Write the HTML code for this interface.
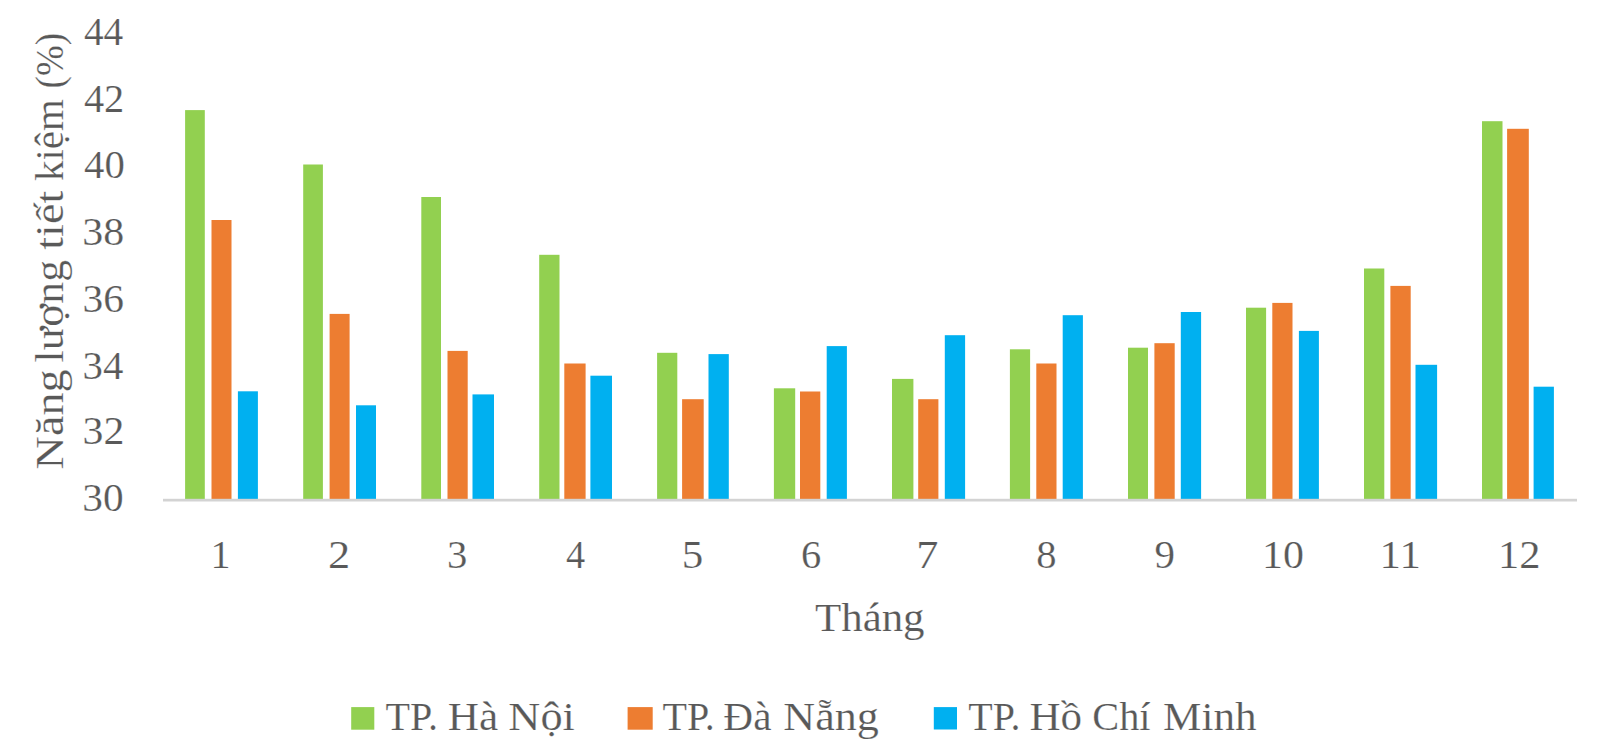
<!DOCTYPE html>
<html lang="vi"><head><meta charset="utf-8"><title>Năng lượng tiết kiệm</title>
<style>
html,body{margin:0;padding:0;background:#fff;}
body{width:1600px;height:750px;overflow:hidden;}
svg{display:block;}
text{font-family:"Liberation Serif",serif;fill:#595959;stroke:#fff;stroke-width:0.2px;}
</style></head><body>
<svg width="1600" height="750" viewBox="0 0 1600 750">
<rect x="0" y="0" width="1600" height="750" fill="#ffffff"/>
<rect x="185.1" y="110.1" width="19.7" height="389.9" fill="#92d050"/>
<rect x="211.5" y="220.0" width="20.0" height="280.0" fill="#ed7d31"/>
<rect x="237.9" y="391.3" width="20.0" height="108.7" fill="#00b0f0"/>
<rect x="303.2" y="164.5" width="19.7" height="335.5" fill="#92d050"/>
<rect x="329.6" y="313.9" width="20.0" height="186.1" fill="#ed7d31"/>
<rect x="356.0" y="405.3" width="20.0" height="94.7" fill="#00b0f0"/>
<rect x="421.3" y="197.0" width="19.7" height="303.0" fill="#92d050"/>
<rect x="447.5" y="350.9" width="20.2" height="149.1" fill="#ed7d31"/>
<rect x="472.5" y="394.4" width="21.5" height="105.6" fill="#00b0f0"/>
<rect x="539.2" y="254.8" width="20.3" height="245.2" fill="#92d050"/>
<rect x="564.3" y="363.5" width="21.3" height="136.5" fill="#ed7d31"/>
<rect x="590.4" y="375.7" width="21.6" height="124.3" fill="#00b0f0"/>
<rect x="657.1" y="352.8" width="20.2" height="147.2" fill="#92d050"/>
<rect x="682.1" y="399.2" width="21.6" height="100.8" fill="#ed7d31"/>
<rect x="708.5" y="354.1" width="20.3" height="145.9" fill="#00b0f0"/>
<rect x="773.9" y="388.3" width="21.3" height="111.7" fill="#92d050"/>
<rect x="800.0" y="391.5" width="20.3" height="108.5" fill="#ed7d31"/>
<rect x="826.7" y="346.1" width="20.2" height="153.9" fill="#00b0f0"/>
<rect x="892.0" y="378.9" width="21.4" height="121.1" fill="#92d050"/>
<rect x="918.2" y="399.2" width="20.2" height="100.8" fill="#ed7d31"/>
<rect x="944.8" y="335.2" width="20.3" height="164.8" fill="#00b0f0"/>
<rect x="1009.9" y="349.3" width="20.2" height="150.7" fill="#92d050"/>
<rect x="1036.3" y="363.5" width="20.2" height="136.5" fill="#ed7d31"/>
<rect x="1062.7" y="315.2" width="20.2" height="184.8" fill="#00b0f0"/>
<rect x="1128.0" y="347.7" width="20.0" height="152.3" fill="#92d050"/>
<rect x="1154.4" y="343.2" width="20.3" height="156.8" fill="#ed7d31"/>
<rect x="1180.8" y="312.0" width="20.3" height="188.0" fill="#00b0f0"/>
<rect x="1246.0" y="307.7" width="20.1" height="192.3" fill="#92d050"/>
<rect x="1272.3" y="302.9" width="20.2" height="197.1" fill="#ed7d31"/>
<rect x="1298.9" y="330.9" width="20.0" height="169.1" fill="#00b0f0"/>
<rect x="1364.0" y="268.5" width="20.3" height="231.5" fill="#92d050"/>
<rect x="1390.4" y="285.9" width="20.3" height="214.1" fill="#ed7d31"/>
<rect x="1415.5" y="364.8" width="21.6" height="135.2" fill="#00b0f0"/>
<rect x="1482.0" y="121.2" width="20.5" height="378.8" fill="#92d050"/>
<rect x="1507.1" y="128.8" width="21.7" height="371.2" fill="#ed7d31"/>
<rect x="1533.6" y="386.7" width="20.3" height="113.3" fill="#00b0f0"/>
<rect x="163.0" y="498.8" width="1414.0" height="2.7" fill="#d3d3d3"/>
<text x="83.95" y="44.70" font-size="39.5" textLength="39.35" lengthAdjust="spacingAndGlyphs">44</text>
<text x="83.93" y="112.00" font-size="39.5" textLength="40.37" lengthAdjust="spacingAndGlyphs">42</text>
<text x="84.03" y="178.30" font-size="39.5" textLength="40.72" lengthAdjust="spacingAndGlyphs">40</text>
<text x="82.28" y="245.30" font-size="39.5" textLength="41.91" lengthAdjust="spacingAndGlyphs">38</text>
<text x="82.50" y="312.00" font-size="39.5" textLength="41.41" lengthAdjust="spacingAndGlyphs">36</text>
<text x="82.54" y="379.30" font-size="39.5" textLength="40.78" lengthAdjust="spacingAndGlyphs">34</text>
<text x="82.58" y="444.30" font-size="39.5" textLength="41.80" lengthAdjust="spacingAndGlyphs">32</text>
<text x="82.31" y="510.80" font-size="39.5" textLength="41.26" lengthAdjust="spacingAndGlyphs">30</text>
<text x="210.60" y="568.40" font-size="39.5" textLength="20.03" lengthAdjust="spacingAndGlyphs">1</text>
<text x="327.93" y="568.40" font-size="39.5" textLength="22.20" lengthAdjust="spacingAndGlyphs">2</text>
<text x="447.09" y="568.40" font-size="39.5" textLength="20.30" lengthAdjust="spacingAndGlyphs">3</text>
<text x="565.92" y="568.40" font-size="39.5" textLength="19.16" lengthAdjust="spacingAndGlyphs">4</text>
<text x="681.70" y="568.40" font-size="39.5" textLength="21.54" lengthAdjust="spacingAndGlyphs">5</text>
<text x="801.10" y="568.40" font-size="39.5" textLength="20.28" lengthAdjust="spacingAndGlyphs">6</text>
<text x="916.35" y="568.40" font-size="39.5" textLength="22.16" lengthAdjust="spacingAndGlyphs">7</text>
<text x="1036.36" y="568.40" font-size="39.5" textLength="20.28" lengthAdjust="spacingAndGlyphs">8</text>
<text x="1154.40" y="568.40" font-size="39.5" textLength="20.52" lengthAdjust="spacingAndGlyphs">9</text>
<text x="1261.99" y="568.40" font-size="39.5" textLength="41.90" lengthAdjust="spacingAndGlyphs">10</text>
<text x="1379.60" y="568.40" font-size="39.5" textLength="41.29" lengthAdjust="spacingAndGlyphs">11</text>
<text x="1497.94" y="568.40" font-size="39.5" textLength="42.48" lengthAdjust="spacingAndGlyphs">12</text>
<text x="815.00" y="630.80" font-size="40" textLength="109.54" lengthAdjust="spacingAndGlyphs">Tháng</text>
<text y="729.7" font-size="39"><tspan x="385.63" textLength="52.35" lengthAdjust="spacingAndGlyphs">TP.</tspan> <tspan x="447.76" textLength="50.47" lengthAdjust="spacingAndGlyphs">Hà</tspan> <tspan x="508.38" textLength="66.47" lengthAdjust="spacingAndGlyphs">Nội</tspan></text>
<text y="729.7" font-size="39"><tspan x="662.53" textLength="52.35" lengthAdjust="spacingAndGlyphs">TP.</tspan> <tspan x="723.34" textLength="48.17" lengthAdjust="spacingAndGlyphs">Đà</tspan> <tspan x="783.39" textLength="95.54" lengthAdjust="spacingAndGlyphs">Nẵng</tspan></text>
<text y="729.7" font-size="39"><tspan x="968.23" textLength="52.24" lengthAdjust="spacingAndGlyphs">TP.</tspan> <tspan x="1029.52" textLength="52.65" lengthAdjust="spacingAndGlyphs">Hồ</tspan> <tspan x="1092.25" textLength="58.32" lengthAdjust="spacingAndGlyphs">Chí</tspan> <tspan x="1163.02" textLength="93.55" lengthAdjust="spacingAndGlyphs">Minh</tspan></text>
<text transform="translate(63.0,468.4) rotate(-90)" y="0" font-size="40"><tspan x="-1.04" textLength="100.07" lengthAdjust="spacingAndGlyphs">Năng</tspan> <tspan x="105.98" textLength="102.38" lengthAdjust="spacingAndGlyphs">lượng</tspan> <tspan x="218.62" textLength="59.19" lengthAdjust="spacingAndGlyphs">tiết</tspan> <tspan x="287.33" textLength="81.82" lengthAdjust="spacingAndGlyphs">kiệm</tspan> <tspan x="379.98" textLength="55.51" lengthAdjust="spacingAndGlyphs">(%)</tspan></text>
<rect x="351.2" y="707.1" width="23.1" height="22.6" fill="#92d050"/>
<rect x="627.6" y="707.1" width="25.1" height="22.6" fill="#ed7d31"/>
<rect x="933.8" y="707.1" width="23.2" height="22.4" fill="#00b0f0"/>
</svg>
</body></html>
